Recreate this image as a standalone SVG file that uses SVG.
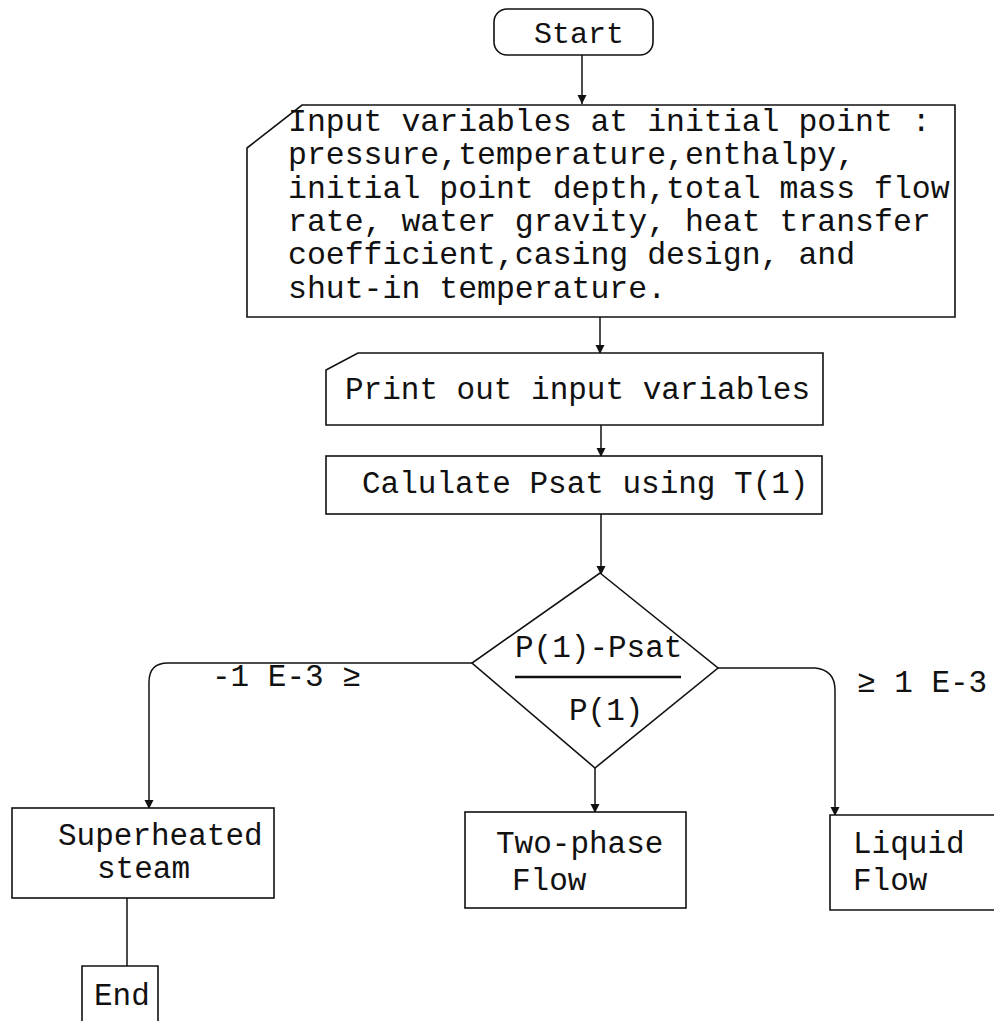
<svg xmlns="http://www.w3.org/2000/svg" width="994" height="1021" viewBox="0 0 994 1021">
  <style>
    .box { fill: #fff; stroke: #111; stroke-width: 1.6; }
    .wire { fill: none; stroke: #111; stroke-width: 1.5; }
    .t { font-family: "Liberation Mono", "Courier New", monospace; fill: #111; }
    .m { font-size: 31px; }
    .big { font-size: 31.5px; }
  </style>
  <defs>
    <!-- small filled head, drawn along the +x axis so orient="auto" follows the line -->
    <marker id="arrow" markerUnits="userSpaceOnUse" markerWidth="12" markerHeight="12" refX="10" refY="6" orient="auto" viewBox="0 0 12 12">
      <path d="M1,1.5 L10,6 L1,10.5 Z" fill="#111"/>
    </marker>
  </defs>
  <rect width="994" height="1021" fill="#fff"/>

  <!-- flow lines -->
  <g id="connectors">
    <path class="wire" d="M582,55 V104" marker-end="url(#arrow)"/>
    <path class="wire" d="M600,317 V354" marker-end="url(#arrow)"/>
    <path class="wire" d="M601,425 V457" marker-end="url(#arrow)"/>
    <path class="wire" d="M601,514 V575" marker-end="url(#arrow)"/>
    <path class="wire" d="M472,663 H168 Q149,663 149,682 V809" marker-end="url(#arrow)"/>
    <path class="wire" d="M718,668 H815 Q835,670 835,690 V816" marker-end="url(#arrow)"/>
    <path class="wire" d="M595,768 V813" marker-end="url(#arrow)"/>
    <path class="wire" d="M127,898 V966"/>
    <text class="t m" x="212" y="686">-1 E-3 ≥</text>
    <text class="t m" x="857" y="692">≥ 1 E-3</text>
  </g>

  <g id="start">
    <rect class="box" x="494" y="9" width="159" height="46" rx="13"/>
    <text class="t" font-size="30" x="534" y="43">Start</text>
  </g>

  <g id="input">
    <path class="box" d="M302,105 H955 V317 H247 V148 Z"/>
    <text class="t big">
      <tspan x="288" y="131">Input variables at initial point :</tspan>
      <tspan x="288" y="164">pressure,temperature,enthalpy,</tspan>
      <tspan x="288" y="198">initial point depth,total mass flow</tspan>
      <tspan x="288" y="231">rate, water gravity, heat transfer</tspan>
      <tspan x="288" y="264">coefficient,casing design, and</tspan>
      <tspan x="288" y="298">shut-in temperature.</tspan>
    </text>
  </g>

  <g id="print">
    <path class="box" d="M358,353 H823 V425 H326 V370 Z"/>
    <text class="t m" x="345" y="399">Print out input variables</text>
  </g>

  <g id="calc">
    <rect class="box" x="326" y="456" width="496" height="58"/>
    <text class="t m" x="362" y="493">Calulate Psat using T(1)</text>
  </g>

  <g id="decision">
    <polygon class="box" points="600,573 718,668 595,768 472,663"/>
    <text class="t m" x="515" y="657">P(1)-Psat</text>
    <line x1="515" y1="677" x2="681" y2="677" stroke="#111" stroke-width="2.5"/>
    <text class="t m" x="569" y="720">P(1)</text>
  </g>

  <g id="superheated">
    <rect class="box" x="12" y="808" width="262" height="90"/>
    <text class="t m" x="58" y="845">Superheated</text>
    <text class="t m" x="97" y="878">steam</text>
  </g>

  <g id="twophase">
    <rect class="box" x="465" y="812" width="221" height="96"/>
    <text class="t m" x="496" y="853">Two-phase</text>
    <text class="t m" x="512" y="890">Flow</text>
  </g>

  <g id="liquid">
    <path class="box" d="M996,815 H830 V910 H996"/>
    <text class="t m" x="853" y="853">Liquid</text>
    <text class="t m" x="853" y="890">Flow</text>
  </g>

  <g id="end">
    <path class="box" d="M82,1022 V966 H158 V1022"/>
    <text class="t m" x="94" y="1005">End</text>
  </g>
</svg>
